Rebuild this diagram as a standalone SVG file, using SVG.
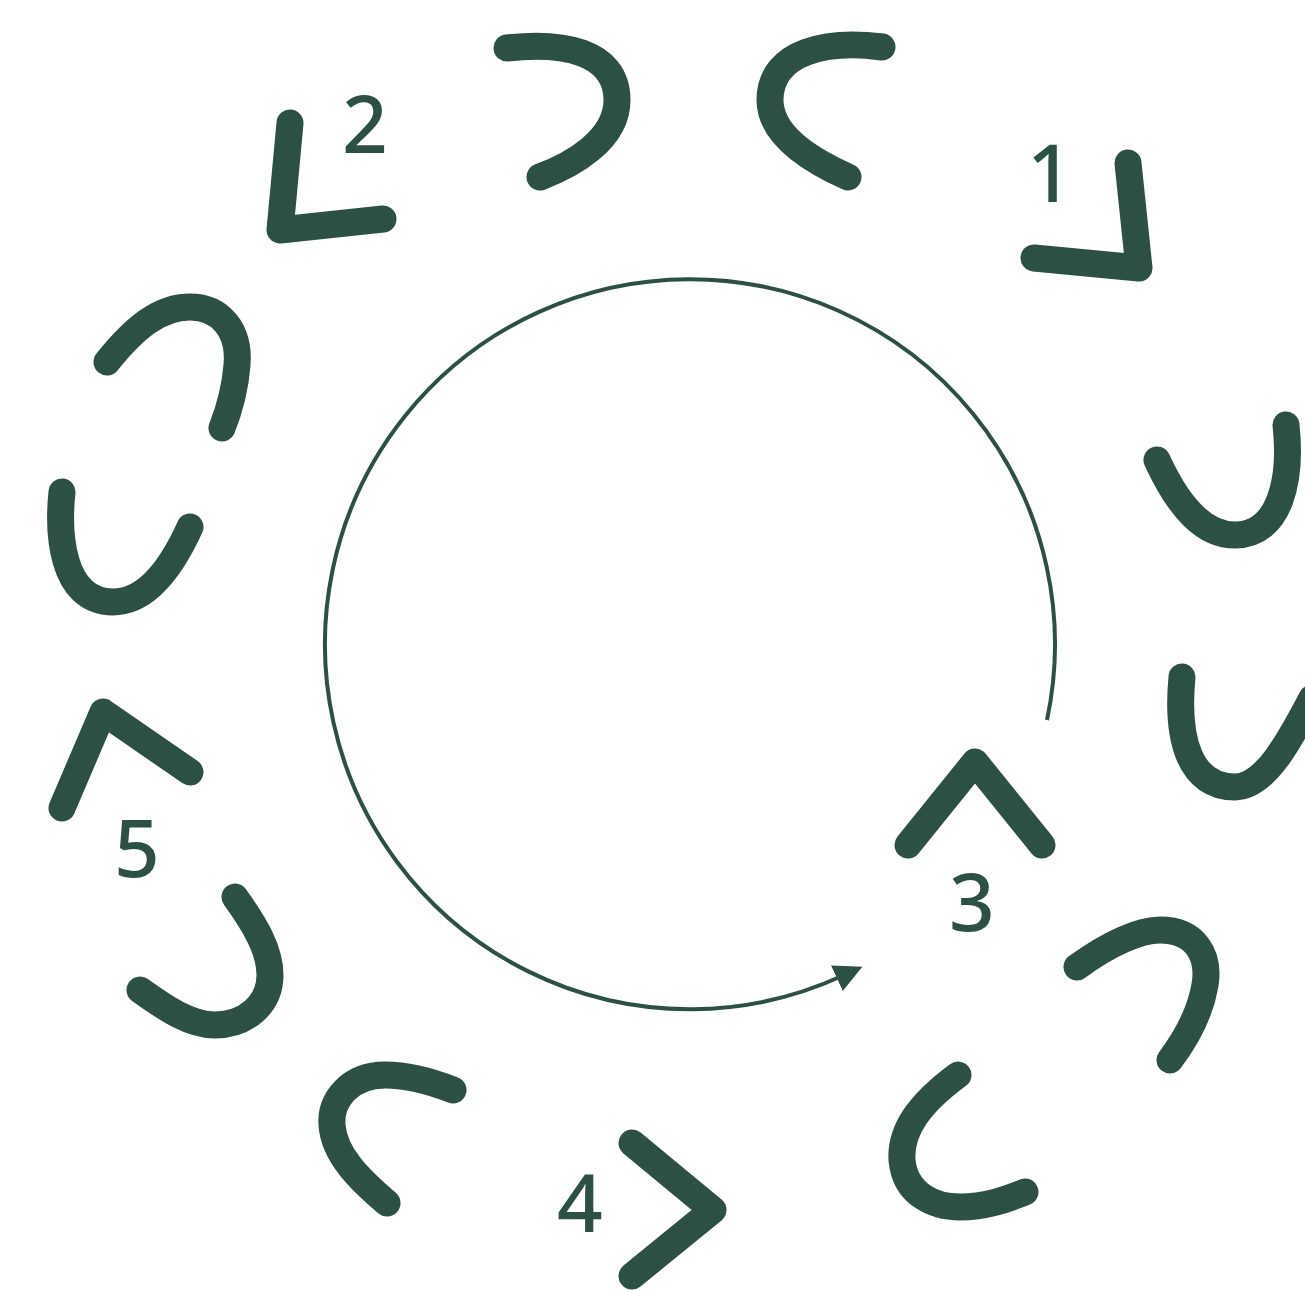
<svg xmlns="http://www.w3.org/2000/svg" width="1305" height="1293" viewBox="0 0 1305 1293">
<defs>
<style>
.s{fill:none;stroke:#2d5044;stroke-width:27;stroke-linecap:round;stroke-linejoin:round}
.n{font-family:"Noto Sans","Open Sans",sans-serif;font-size:80px;font-weight:500;fill:#2d5044;text-anchor:middle}
.c{fill:none;stroke:#2d5044;stroke-width:4}
</style>
<marker id="ah" viewBox="0 0 10 10" refX="2" refY="5" markerWidth="7" markerHeight="8" markerUnits="strokeWidth" orient="auto">
<path d="M0 0 L10 5 L0 10 Z" fill="#2d5044"/>
</marker>
</defs>
<rect width="1305" height="1293" fill="#ffffff"/>
<g id="connectors">
<path class="c" d="M 1047 720 A 365 365 0 1 0 842 976" marker-end="url(#ah)"/>
</g>
<g id="hook-top-a"><path class="s" d="M 507 48 C 560 42, 617 50, 617 100 C 617 140, 572 165, 540 177"/></g>
<g id="hook-top-b"><path class="s" d="M 882 47 C 830 40, 770 50, 770 100 C 770 135, 810 160, 848 177"/></g>
<g id="step-1"><path class="s" d="M 1128 163 L 1139 268 L 1034 258"/><text class="n" x="1050" y="202">1</text></g>
<g id="hook-right-a"><path class="s" d="M 1157 460 C 1180 510, 1205 535, 1235 535 C 1280 535, 1292 480, 1286 425"/></g>
<g id="hook-right-b"><path class="s" d="M 1182 677 C 1176 740, 1190 787, 1235 787 C 1265 787, 1290 740, 1312 698"/></g>
<g id="step-3"><path class="s" d="M 908 845 L 975 762 L 1042 845"/><text class="n" x="972" y="931">3</text></g>
<g id="hook-lr-a"><path class="s" d="M 1077 967 C 1110 943, 1140 930, 1160 930 C 1195 930, 1210 955, 1205 985 C 1200 1015, 1185 1040, 1170 1060"/></g>
<g id="hook-lr-b"><path class="s" d="M 958 1075 C 920 1103, 900 1130, 902 1160 C 905 1195, 935 1207, 960 1207 C 985 1207, 1005 1200, 1025 1192"/></g>
<g id="step-4"><path class="s" d="M 632 1143 L 713 1210 L 632 1276"/><text class="n" x="580" y="1232">4</text></g>
<g id="hook-bl"><path class="s" d="M 453 1090 C 430 1081, 405 1075, 385 1075 C 350 1075, 330 1100, 332 1125 C 334 1155, 360 1180, 387 1203"/></g>
<g id="hook-left-c"><path class="s" d="M 235 897 C 255 925, 270 950, 270 975 C 270 1005, 245 1025, 215 1025 C 190 1025, 165 1008, 140 990"/></g>
<g id="step-5"><path class="s" d="M 62 808 L 103 712 L 190 772"/><text class="n" x="137" y="877">5</text></g>
<g id="hook-left-a"><path class="s" d="M 107 362 C 135 327, 160 307, 190 307 C 220 307, 240 330, 237 365 C 235 390, 230 408, 222 428"/></g>
<g id="hook-left-b"><path class="s" d="M 62 492 C 58 530, 60 602, 113 602 C 150 602, 175 560, 190 527"/></g>
<g id="step-2"><path class="s" d="M 290 123 L 280 230 L 383 219"/><text class="n" x="365" y="153">2</text></g>
</svg>
